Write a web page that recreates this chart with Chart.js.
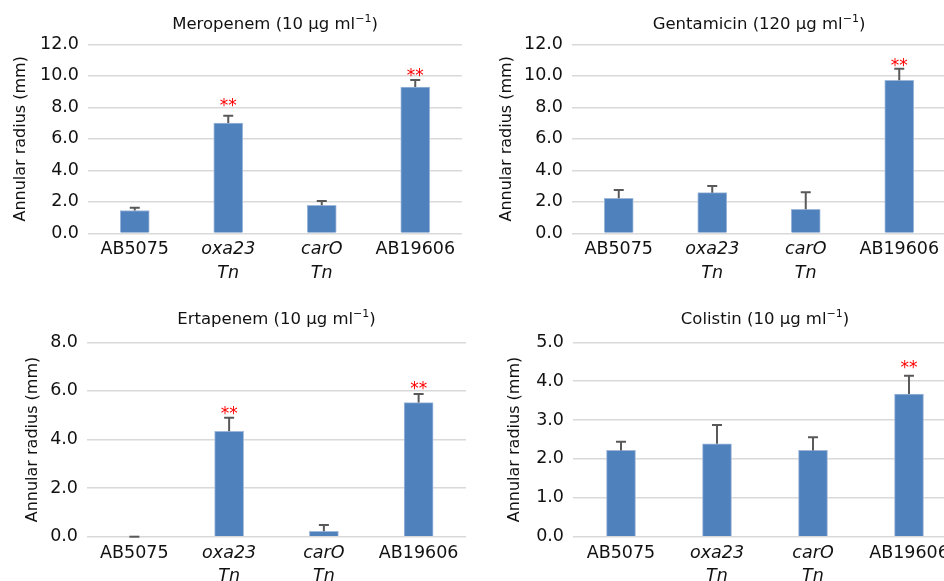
<!DOCTYPE html>
<html lang="en">
<head>
  <meta charset="UTF-8" />
  <title>Annular radius by antibiotic</title>
  <script src="https://cdn.jsdelivr.net/npm/chart.js"></script>
  <style>
    body {
      margin: 0;
      width: 944px;
      height: 581px;
      overflow: hidden;
      background: #fff;
      position: relative;
    }
    canvas { position: absolute; }
  </style>
</head>
<body>
  <canvas id="mero" width="472" height="290" style="left:0;top:0"></canvas>
  <canvas id="genta" width="480" height="290" style="left:472px;top:0"></canvas>
  <canvas id="erta" width="472" height="291" style="left:0;top:290px"></canvas>
  <canvas id="coli" width="500" height="291" style="left:472px;top:290px"></canvas>

  <script>
    // strains on the x axis (second line = "Tn" for the transposon mutants)
    const strains = ['AB5075', ['oxa23', 'Tn'], ['carO', 'Tn'], 'AB19606'];
    const italicLabel = [false, true, true, false];

    // mean annular radius (mm), upper error (mm), and where the ** sits (mm)
    const meropenemMean = [1.45, 7.0, 1.78, 9.29];
    const meropenemErr = [0.18, 0.47, 0.27, 0.44];
    const meropenemStars = [null, 8.42, null, 10.32];

    const gentamicinMean = [2.22, 2.58, 1.52, 9.71];
    const gentamicinErr = [0.53, 0.42, 1.08, 0.74];
    const gentamicinStars = [null, null, null, 10.96];

    const ertapenemMean = [0, 4.34, 0.22, 5.52];
    const ertapenemErr = [0, 0.55, 0.26, 0.35];
    const ertapenemStars = [null, 5.24, null, 6.27];

    const colistinMean = [2.22, 2.39, 2.22, 3.67];
    const colistinErr = [0.22, 0.48, 0.34, 0.47];
    const colistinStars = [null, null, null, 4.46];

    const family = "'DejaVu Sans', sans-serif";
    const ink = '#111';
    const barBlue = '#4f81bd';

    // error bars, significance stars and the title with its superscript
    const panelExtras = {
      id: 'panel',
      afterDatasetsDraw(chart, args, opts) {
        const ctx = chart.ctx;
        const y = chart.scales.y;
        const bars = chart.getDatasetMeta(0).data;
        ctx.save();
        ctx.strokeStyle = '#595959';
        ctx.lineWidth = 2;
        bars.forEach((bar, i) => {
          const v = opts.mean[i];
          const top = y.getPixelForValue(v + opts.err[i]);
          const base = y.getPixelForValue(v);
          ctx.beginPath();
          ctx.moveTo(bar.x, base);
          ctx.lineTo(bar.x, top);
          ctx.moveTo(bar.x - 5, top);
          ctx.lineTo(bar.x + 5, top);
          ctx.stroke();
          if (opts.stars[i] != null) {
            ctx.fillStyle = '#ff0000';
            ctx.font = '17px ' + family;
            ctx.textAlign = 'center';
            ctx.textBaseline = 'alphabetic';
            ctx.fillText('**', bar.x, y.getPixelForValue(opts.stars[i]) + 10);
          }
        });

        // title: "Name (dose μg ml⁻¹)"
        const main = opts.title + ' μg ml';
        const big = '16.5px ' + family;
        const small = '11px ' + family;
        ctx.fillStyle = ink;
        ctx.textBaseline = 'middle';
        ctx.textAlign = 'left';
        ctx.font = big;
        const w1 = ctx.measureText(main).width;
        const w3 = ctx.measureText(')').width;
        ctx.font = small;
        const w2 = ctx.measureText('−1').width;
        const area = chart.chartArea;
        let x = (area.left + area.right) / 2 - (w1 + w2 + w3) / 2;
        ctx.font = big;
        ctx.fillText(main, x, opts.titleY);
        x += w1;
        ctx.font = small;
        ctx.fillText('−1', x, opts.titleY - 6);
        x += w2;
        ctx.font = big;
        ctx.fillText(')', x, opts.titleY);
        ctx.restore();
      }
    };

    function makePanel(id, p) {
      return new Chart(document.getElementById(id), {
        type: 'bar',
        data: {
          labels: strains,
          datasets: [{
            data: p.mean,
            backgroundColor: barBlue,
            borderColor: '#9fb8da',
            borderWidth: 1,
            barThickness: 29
          }]
        },
        options: {
          responsive: false,
          animation: false,
          layout: { padding: p.pad },
          plugins: {
            legend: { display: false },
            tooltip: { enabled: false },
            panel: p
          },
          scales: {
            x: {
              grid: { display: false, drawTicks: false },
              border: { display: false },
              ticks: {
                color: ink,
                padding: 5,
                maxRotation: 0,
                autoSkip: false,
                font: c => ({
                  family: family,
                  size: 17.5,
                  lineHeight: 1.33,
                  style: italicLabel[c.index] ? 'italic' : 'normal'
                })
              },
              afterFit: s => { s.height = p.xHeight; }
            },
            y: {
              min: 0,
              max: p.max,
              ticks: {
                stepSize: p.step,
                padding: 9,
                color: ink,
                font: { family: family, size: 17.5 },
                callback: v => v.toFixed(1)
              },
              grid: { color: '#d9d9d9', lineWidth: 1.5, drawTicks: false },
              border: { display: false },
              title: {
                display: true,
                text: 'Annular radius (mm)',
                color: ink,
                font: { family: family, size: 16 },
                padding: { top: p.yTitlePad, bottom: 0 }
              },
              afterFit: s => { s.width = p.yWidth; }
            }
          }
        },
        plugins: [panelExtras]
      });
    }

    makePanel('mero', {
      title: 'Meropenem (10', mean: meropenemMean, err: meropenemErr, stars: meropenemStars,
      max: 12, step: 2, titleY: 25, yWidth: 88, yTitlePad: 11, xHeight: 56.7,
      pad: { top: 44.3, right: 10, left: 0, bottom: 0 }
    });
    makePanel('genta', {
      title: 'Gentamicin (120', mean: gentamicinMean, err: gentamicinErr, stars: gentamicinStars,
      max: 12, step: 2, titleY: 25, yWidth: 100, yTitlePad: 25.4, xHeight: 56.7,
      pad: { top: 44.3, right: 6, left: 0, bottom: 0 }
    });
    makePanel('erta', {
      title: 'Ertapenem (10', mean: ertapenemMean, err: ertapenemErr, stars: ertapenemStars,
      max: 8, step: 2, titleY: 30, yWidth: 87, yTitlePad: 23.7, xHeight: 44.3,
      pad: { top: 52.3, right: 6, left: 0, bottom: 0 }
    });
    makePanel('coli', {
      title: 'Colistin (10', mean: colistinMean, err: colistinErr, stars: colistinStars,
      max: 5, step: 1, titleY: 30, yWidth: 101, yTitlePad: 33.7, xHeight: 44.3,
      pad: { top: 52.3, right: 15, left: 0, bottom: 0 }
    });
  </script>
</body>
</html>
